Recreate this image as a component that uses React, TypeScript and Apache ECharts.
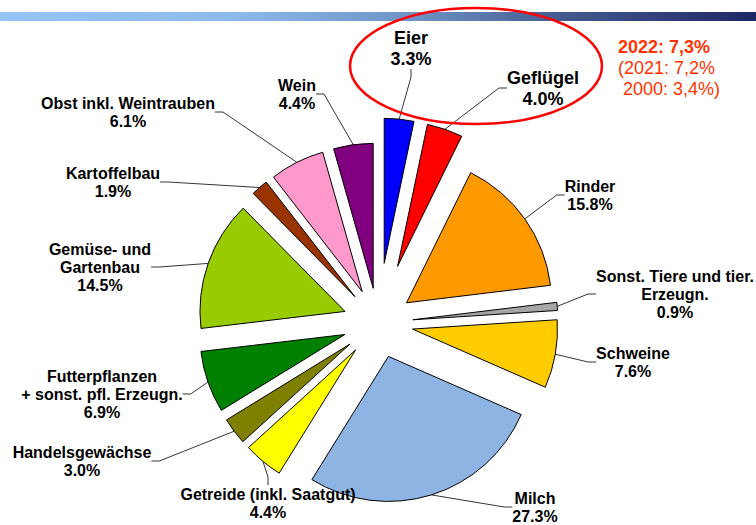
import React, { useEffect, useRef } from "react";
import * as echarts from "echarts";

const categories = [
  "Eier",
  "Geflügel",
  "Rinder",
  "Sonst. Tiere und tier.\nErzeugn.",
  "Schweine",
  "Milch",
  "Getreide (inkl. Saatgut)",
  "Handelsgewächse",
  "Futterpflanzen\n+ sonst. pfl. Erzeugn.",
  "Gemüse- und\nGartenbau",
  "Kartoffelbau",
  "Obst inkl. Weintrauben",
  "Wein",
];
const shares = [3.3, 4.0, 15.8, 0.9, 7.6, 27.3, 4.4, 3.0, 6.9, 14.5, 1.9, 6.1, 4.4];
const colors = [
  "#0000FF", "#FF0000", "#FF9900", "#A6A6A6", "#FFCC00", "#8DB4E2", "#FFFF00",
  "#808000", "#008000", "#99CC00", "#993300", "#FF99CC", "#800080",
];
// highlighted items (Eier, Geflügel) are pulled out further
const highlighted = [true, true, false, false, false, false, false, false, false, false, false, false, false];
// label block centres (layout only)
const labelX = [411, 543, 590, 675, 633, 535, 268, 82, 102, 100, 113, 128, 297];
const labelY = [48, 88, 195, 294, 362, 507, 503, 461, 394, 267, 182, 112, 94];

const noteLines = ["2022: 7,3%", "(2021: 7,2%", " 2000: 3,4%)"];

export default function App() {
  const ref = useRef<HTMLDivElement>(null);
  useEffect(() => {
    document.body.style.margin = "0";
    const chart = echarts.init(ref.current!, null, { renderer: "svg" });
    const FONT = "'Liberation Sans', Arial, sans-serif";
    const CX = 378;
    const CY = 323;
    const total = shares.reduce((a, b) => a + b, 0);

    let cum = 0;
    const series = categories.map((_, k) => {
      const mid = ((cum + shares[k] / 2) / total) * Math.PI * 2;
      cum += shares[k];
      const off = highlighted[k] ? 60 : 35;
      const big = highlighted[k];
      return {
        type: "pie",
        center: [CX + Math.sin(mid) * off, CY - Math.cos(mid) * off],
        radius: 145,
        startAngle: 90,
        clockwise: true,
        silent: true,
        avoidLabelOverlap: false,
        emphasis: { disabled: true },
        label: {
          show: true,
          position: "outside",
          color: "#000",
          fontFamily: FONT,
          fontWeight: "bold",
          fontSize: big ? 18 : 16,
          lineHeight: big ? 21 : 18,
          align: "center",
          formatter: (p: any) => `${p.name}\n${shares[p.dataIndex].toFixed(1)}%`,
        },
        labelLine: {
          show: true,
          length: 10,
          length2: 8,
          lineStyle: { color: "#000", width: 0.8 },
        },
        labelLayout: (p: any) => ({
          x: labelX[p.dataIndex],
          y: labelY[p.dataIndex],
          align: "center",
          verticalAlign: "middle",
        }),
        data: categories.map((name, i) => {
          const visible = i === k;
          return {
            name,
            value: shares[i],
            itemStyle: visible
              ? { color: colors[i], borderColor: "#000", borderWidth: 1 }
              : { color: "rgba(0,0,0,0)", borderWidth: 0 },
            label: { show: visible },
            labelLine: { show: visible },
          };
        }),
      };
    });

    chart.setOption({
      animation: false,
      graphic: [
        {
          type: "rect",
          shape: { x: 0, y: 12, width: 756, height: 9 },
          style: {
            fill: new echarts.graphic.LinearGradient(0, 0, 1, 0, [
              { offset: 0, color: "#93C5F6" },
              { offset: 0.3, color: "#8DBBEC" },
              { offset: 0.55, color: "#6D92C4" },
              { offset: 0.75, color: "#43588E" },
              { offset: 1, color: "#1E2766" },
            ]),
          },
          silent: true,
        },
        {
          type: "ellipse",
          shape: { cx: 476, cy: 66, rx: 126, ry: 58 },
          style: { fill: "none", stroke: "#FF0000", lineWidth: 2.5 },
          z: 10,
          silent: true,
        },
        {
          type: "text",
          left: 618,
          top: 38,
          style: { text: noteLines[0], fill: "#FF3300", font: `bold 18px ${FONT}` },
        },
        {
          type: "text",
          left: 618,
          top: 59,
          style: { text: noteLines[1], fill: "#FF3300", font: `18px ${FONT}` },
        },
        {
          type: "text",
          left: 618,
          top: 80,
          style: { text: noteLines[2], fill: "#FF3300", font: `18px ${FONT}`, whiteSpace: "pre" },
        },
      ],
      series,
    });
    return () => chart.dispose();
  }, []);
  return <div ref={ref} style={{ width: 756, height: 525 }} />;
}
